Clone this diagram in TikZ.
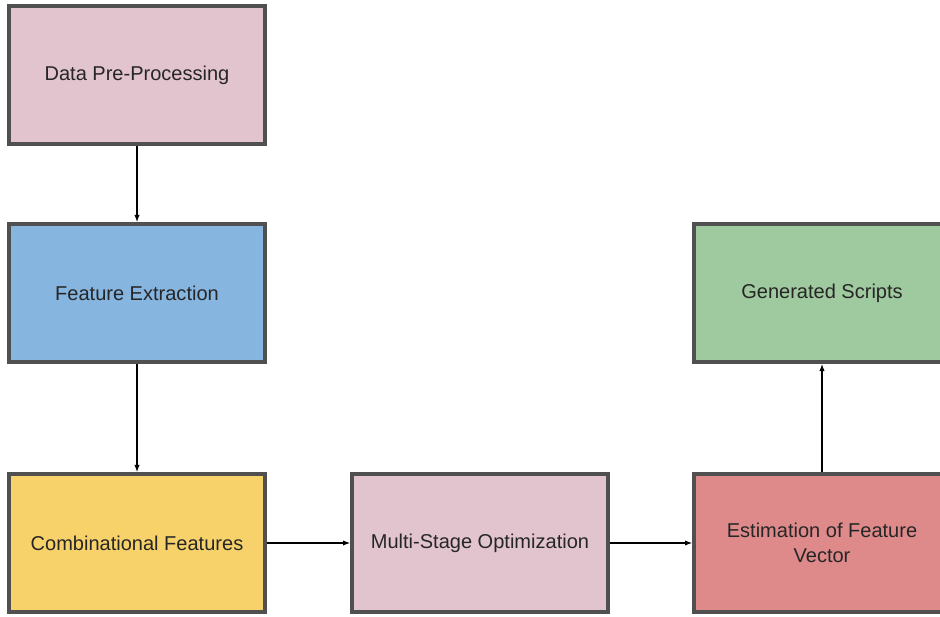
\documentclass[tikz,border=0pt]{standalone}
\usepackage{fontspec}
\setmainfont{Liberation Sans}
\usepackage{xcolor}
\usetikzlibrary{arrows.meta, positioning}

\definecolor{boxline}{HTML}{505050}
\definecolor{pinkfill}{HTML}{E2C4CF}
\definecolor{bluefill}{HTML}{86B5DF}
\definecolor{yellowfill}{HTML}{F7D169}
\definecolor{redfill}{HTML}{DE8A8B}
\definecolor{greenfill}{HTML}{9FC99E}

\begin{document}
\begin{tikzpicture}[
    x=0.02cm,y=-0.02cm,
    >={Latex[length=4pt,width=3pt]},
    font=\fontsize{11.4}{14.2}\selectfont,
    stage/.style={
        draw=boxline, line width=0.08cm,
        minimum height=2.76cm,
        minimum width=5.12cm,
        align=center,
        text=black!85,
        inner sep=2pt
    },
    sig/.style={->, line width=0.6pt}
]

% --- Page frame ---
\clip (0,0) rectangle (940,617);

% --- Left column ---
\node[stage, fill=pinkfill] (prep) at (137,75)
{Data Pre-Processing};

\node[stage, fill=bluefill] (feat) at (137,293)
{Feature Extraction};

\node[stage, fill=yellowfill] (comb) at (137,543)
{Combinational Features};

% --- Bottom row ---
\node[stage, fill=pinkfill] (opt) at (480,543)
{Multi-Stage Optimization};

\node[stage, fill=redfill] (est) at (822,543)
{Estimation of Feature\\Vector};

% --- Output ---
\node[stage, fill=greenfill] (gen) at (822,293)
{Generated Scripts};

% --- Connections ---
\draw[sig] (prep.south) -- (feat.north);
\draw[sig] (feat.south) -- (comb.north);
\draw[sig] (comb.east) -- (opt.west);
\draw[sig] (opt.east) -- (est.west);
\draw[sig] (est.north) -- (gen.south);

\end{tikzpicture}
\end{document}
